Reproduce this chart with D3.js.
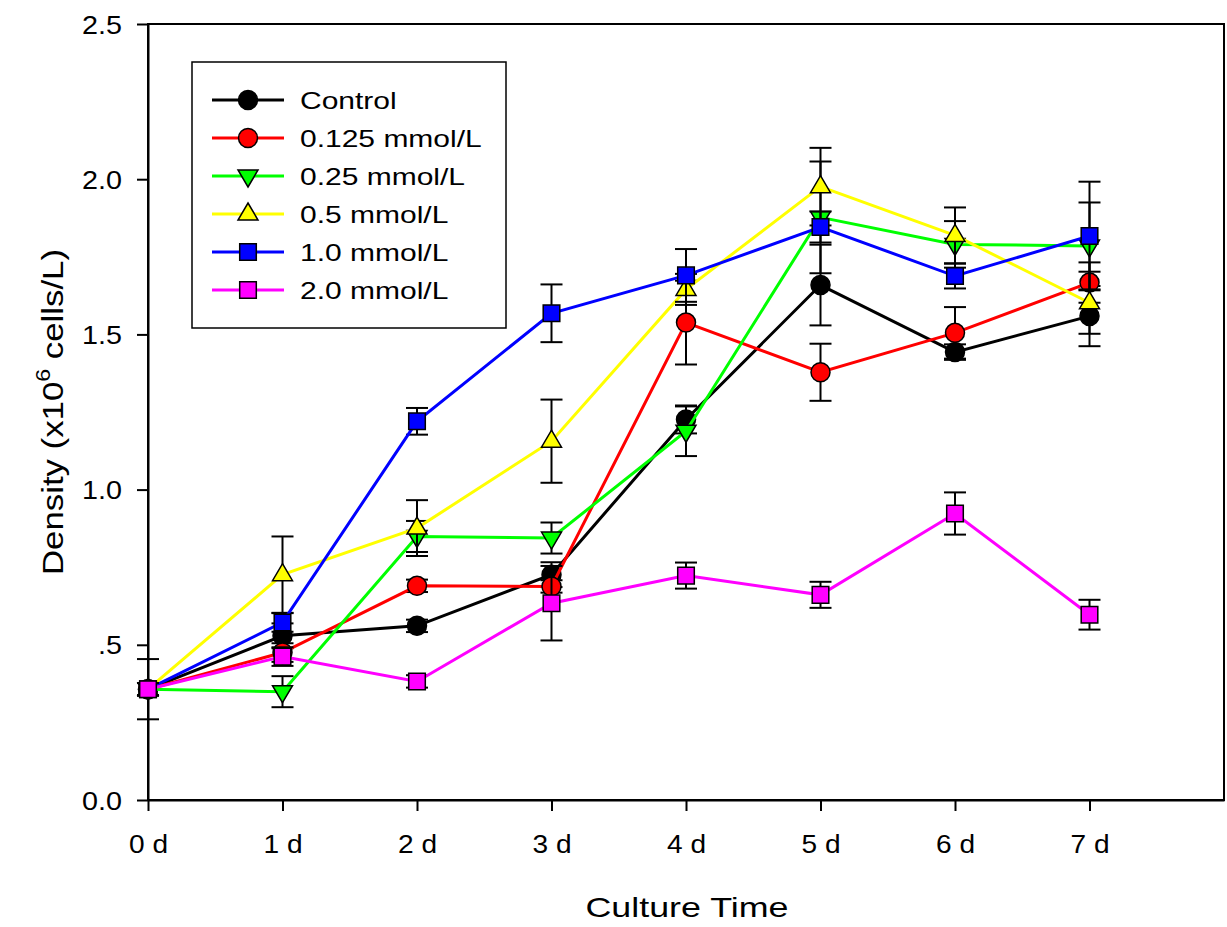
<!DOCTYPE html>
<html>
<head>
<meta charset="utf-8">
<script src="https://cdnjs.cloudflare.com/ajax/libs/d3/7.8.5/d3.min.js"></script>
<style>
  body { margin: 0; background: #fff; }
  svg text { font-family: "Liberation Sans", Arial, sans-serif; fill: #000; }
</style>
</head>
<body>
<svg id="chart" width="1227" height="927"></svg>
<script>
// culture days
var days = [0, 1, 2, 3, 4, 5, 6, 7];
var dayLabels = ["0 d", "1 d", "2 d", "3 d", "4 d", "5 d", "6 d", "7 d"];
var yTicks = [0, 0.5, 1.0, 1.5, 2.0, 2.5];
var yTickLabels = ["0.0", ".5", "1.0", "1.5", "2.0", "2.5"];

// density (x10^6 cells/L) and error bars
var control = [0.357, 0.529, 0.561, 0.726, 1.226, 1.659, 1.443, 1.559];
var controlErr = [0.097, 0.04, 0.02, 0.04, 0.045, 0.13, 0.025, 0.097];
var c0125 = [0.357, 0.475, 0.690, 0.688, 1.538, 1.378, 1.505, 1.667];
var c0125Err = [0.02, 0.03, 0.02, 0.02, 0.135, 0.092, 0.083, 0.065];
var c025 = [0.357, 0.349, 0.849, 0.844, 1.188, 1.877, 1.790, 1.785];
var c025Err = [0.02, 0.05, 0.05, 0.05, 0.08, 0.18, 0.075, 0.14];
var c05 = [0.357, 0.726, 0.876, 1.156, 1.645, 1.976, 1.819, 1.602];
var c05Err = [0.02, 0.123, 0.09, 0.134, 0.05, 0.125, 0.09, 0.1];
var c10 = [0.357, 0.572, 1.220, 1.568, 1.690, 1.846, 1.688, 1.817];
var c10Err = [0.02, 0.03, 0.043, 0.093, 0.085, 0.05, 0.04, 0.175];
var c20 = [0.357, 0.462, 0.382, 0.634, 0.723, 0.661, 0.923, 0.597];
var c20Err = [0.02, 0.03, 0.02, 0.12, 0.042, 0.042, 0.068, 0.048];

var seriesNames = ["Control", "0.125 mmol/L", "0.25 mmol/L", "0.5 mmol/L", "1.0 mmol/L", "2.0 mmol/L"];
var seriesColors = ["#000000", "#ff0000", "#00ff00", "#ffff00", "#0000ff", "#ff00ff"];
var seriesShapes = ["circle", "circle", "down", "up", "square", "square"];

(function() {
  var series = [
    { values: control, err: controlErr },
    { values: c0125, err: c0125Err },
    { values: c025, err: c025Err },
    { values: c05, err: c05Err },
    { values: c10, err: c10Err },
    { values: c20, err: c20Err }
  ].map(function(s, i) {
    s.name = seriesNames[i];
    s.color = seriesColors[i];
    s.shape = seriesShapes[i];
    return s;
  });

  var svg = d3.select("#chart");
  var left = 148, right = 1224, top = 24, bottom = 800;

  var x = d3.scaleLinear().domain([0, 8]).range([left, right]);
  var y = d3.scaleLinear().domain([0, 2.5]).range([bottom, top]);

  // frame
  svg.append("rect")
    .attr("x", left).attr("y", top)
    .attr("width", right - left).attr("height", bottom - top)
    .attr("fill", "none").attr("stroke", "#000").attr("stroke-width", 2);

  var yAxis = svg.append("g")
    .attr("transform", "translate(" + left + ",0)")
    .call(d3.axisLeft(y).tickValues(yTicks).tickSize(11).tickSizeOuter(0)
      .tickFormat(function(d, i) { return yTickLabels[i]; }));

  var xAxis = svg.append("g")
    .attr("transform", "translate(0," + bottom + ")")
    .call(d3.axisBottom(x).tickValues(days).tickSize(11).tickSizeOuter(0)
      .tickFormat(function(d, i) { return dayLabels[i]; }));

  [yAxis, xAxis].forEach(function(ax) {
    ax.select(".domain").attr("stroke-width", 2);
    ax.selectAll(".tick line").attr("stroke-width", 2);
  });

  yAxis.selectAll(".tick text")
    .attr("x", null).attr("dy", null)
    .attr("font-size", 25)
    .attr("transform", "translate(-26,9) scale(1.15,1)");

  xAxis.selectAll(".tick text")
    .attr("y", null).attr("dy", null)
    .attr("font-size", 26)
    .attr("transform", "translate(0,53) scale(1.08,1)");

  function symbolPath(shape) {
    if (shape === "circle") return "M9.5,0A9.5,9.5 0 1,1 -9.5,0A9.5,9.5 0 1,1 9.5,0Z";
    if (shape === "square") return "M-8.3,-8.3H8.3V8.3H-8.3Z";
    if (shape === "up") return "M0,-11L10,6L-10,6Z";
    return "M0,11L10,-6L-10,-6Z";
  }

  var line = d3.line()
    .x(function(d, i) { return x(days[i]); })
    .y(function(d) { return y(d); });

  series.forEach(function(s) {
    var g = svg.append("g");

    // error bars
    var eb = g.selectAll(".err").data(s.values).enter().append("g")
      .attr("stroke", "#000").attr("stroke-width", 2);
    eb.append("line")
      .attr("x1", function(d, i) { return x(days[i]); })
      .attr("x2", function(d, i) { return x(days[i]); })
      .attr("y1", function(d, i) { return y(d - s.err[i]); })
      .attr("y2", function(d, i) { return y(d + s.err[i]); });
    [-1, 1].forEach(function(sign) {
      eb.append("line")
        .attr("x1", function(d, i) { return x(days[i]) - 11; })
        .attr("x2", function(d, i) { return x(days[i]) + 11; })
        .attr("y1", function(d, i) { return y(d + sign * s.err[i]); })
        .attr("y2", function(d, i) { return y(d + sign * s.err[i]); });
    });

    g.append("path")
      .attr("d", line(s.values))
      .attr("fill", "none")
      .attr("stroke", s.color)
      .attr("stroke-width", 3);

    g.selectAll(".pt").data(s.values).enter().append("path")
      .attr("d", symbolPath(s.shape))
      .attr("transform", function(d, i) { return "translate(" + x(days[i]) + "," + y(d) + ")"; })
      .attr("fill", s.color)
      .attr("stroke", "#000")
      .attr("stroke-width", 1.5);
  });

  // legend
  var legend = svg.append("g");
  legend.append("rect")
    .attr("x", 192).attr("y", 62).attr("width", 314).attr("height", 266)
    .attr("fill", "#fff").attr("stroke", "#000").attr("stroke-width", 1.5);

  var row = legend.selectAll(".row").data(series).enter().append("g")
    .attr("transform", function(d, i) { return "translate(0," + (100 + i * 38) + ")"; });
  row.append("line")
    .attr("x1", 212).attr("x2", 284)
    .attr("stroke", function(d) { return d.color; })
    .attr("stroke-width", 3);
  row.append("path")
    .attr("d", function(d) { return symbolPath(d.shape); })
    .attr("transform", "translate(248,0)")
    .attr("fill", function(d) { return d.color; })
    .attr("stroke", "#000").attr("stroke-width", 1.5);
  row.append("text")
    .attr("transform", "translate(300,9) scale(1.25,1)")
    .attr("font-size", 24)
    .text(function(d) { return d.name; });

  // axis titles
  svg.append("text")
    .attr("transform", "translate(687,917) scale(1.28,1)")
    .attr("text-anchor", "middle")
    .attr("font-size", 28)
    .text("Culture Time");

  var ylab = svg.append("text")
    .attr("transform", "translate(63,412) rotate(-90) scale(1.16,1)")
    .attr("text-anchor", "middle")
    .attr("font-size", 30);
  ylab.append("tspan").text("Density (x10");
  ylab.append("tspan").attr("font-size", 20).attr("dy", -13).text("6");
  ylab.append("tspan").attr("dy", 13).text(" cells/L)");
})();
</script>
</body>
</html>
